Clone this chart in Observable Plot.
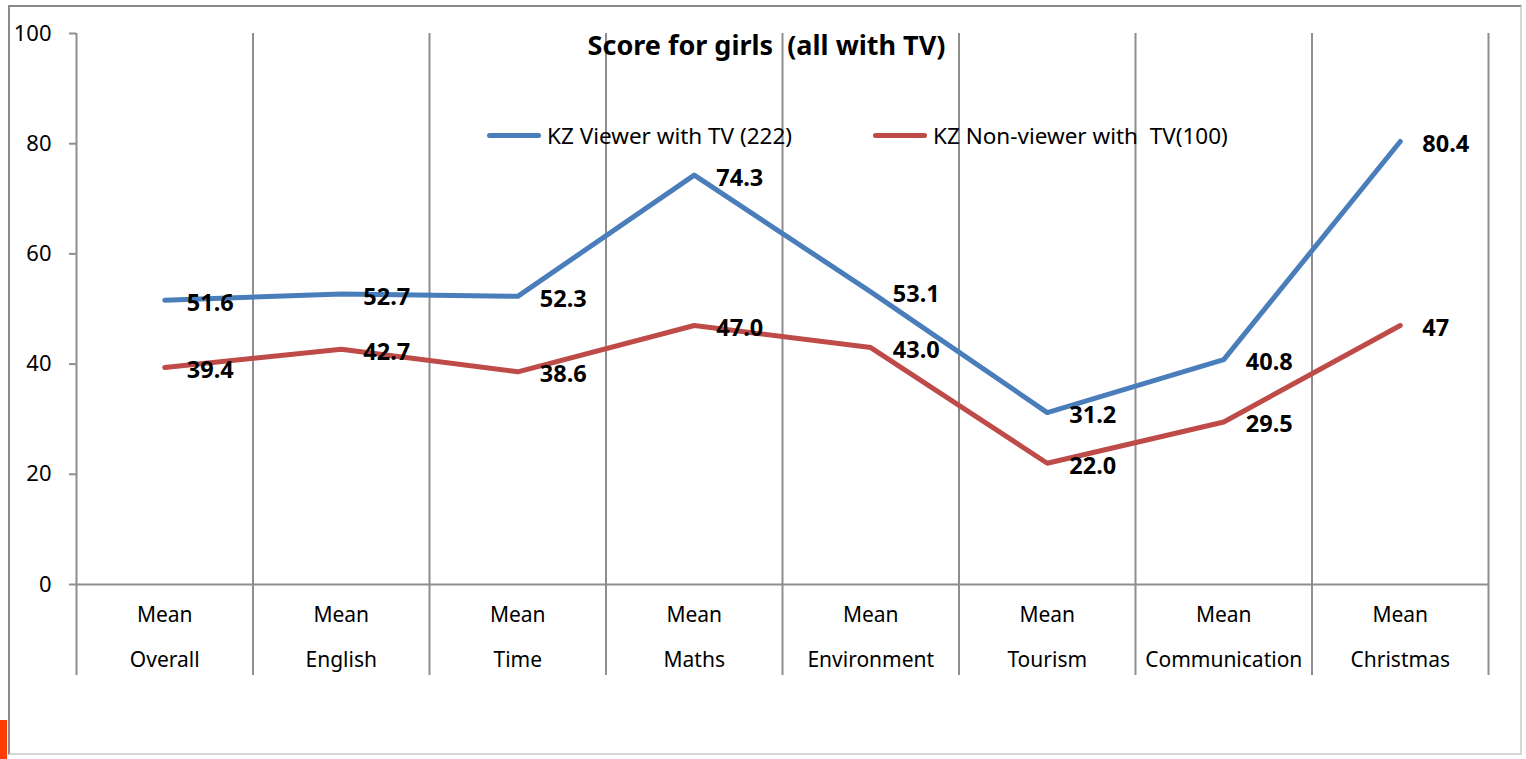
<!DOCTYPE html>
<html>
<head>
<meta charset="utf-8">
<script src="https://cdn.jsdelivr.net/npm/d3@7"></script>
<script src="https://cdn.jsdelivr.net/npm/@observablehq/plot@0.6"></script>
<style>
  html, body { margin: 0; padding: 0; background: #fff; }
  #wrap { position: relative; width: 1526px; height: 759px; overflow: hidden; font-family: "Noto Sans", sans-serif; }
  #wrap svg text { white-space: pre; }
  .border { position: absolute; left: 8px; top: 5px; width: 1514px; height: 750px;
            border-top: 2px solid #8a8a8a; border-left: 2px solid #8a8a8a;
            border-right: 2px solid #d6d6d6; border-bottom: 2px solid #d6d6d6; box-sizing: border-box; pointer-events: none; }
  .redmark { position: absolute; left: 0; top: 720px; width: 7px; height: 39px; background: #ff3d00; }
  .legend { position: absolute; top: 123px; height: 24px; display: flex; align-items: center;
            font-size: 22.5px; color: #000; white-space: pre; }
  .sw { display: inline-block; width: 54px; height: 5px; border-radius: 3px; margin-right: 6px; }
</style>
</head>
<body>
<div id="wrap">
  <div class="border"></div>
  <div class="redmark"></div>
</div>
<script>
const categories = ["Overall", "English", "Time", "Maths", "Environment", "Tourism", "Communication", "Christmas"];
const categoryPrefix = "Mean";
const viewerValues = [51.6, 52.7, 52.3, 74.3, 53.1, 31.2, 40.8, 80.4];
const nonViewerValues = [39.4, 42.7, 38.6, 47.0, 43.0, 22.0, 29.5, 47];
const viewerLabels = ["51.6", "52.7", "52.3", "74.3", "53.1", "31.2", "40.8", "80.4"];
const nonViewerLabels = ["39.4", "42.7", "38.6", "47.0", "43.0", "22.0", "29.5", "47"];
const seriesNames = ["KZ Viewer with TV (222)", "KZ Non-viewer with  TV(100)"];
const seriesColors = ["#4a7ebb", "#be4b48"];
const yTicks = [0, 20, 40, 60, 80, 100];
const title = "Score for girls  (all with TV)";

const rows = [];
categories.forEach((c, i) => {
  rows.push({series: seriesNames[0], pos: i + 0.5, value: viewerValues[i], label: viewerLabels[i]});
});
categories.forEach((c, i) => {
  rows.push({series: seriesNames[1], pos: i + 0.5, value: nonViewerValues[i], label: nonViewerLabels[i]});
});
const catIdx = categories.map((c, i) => ({name: c, pos: i + 0.5}));
const gridPos = d3.range(categories.length + 1);

const grid = "#8e8e8e";

const chart = Plot.plot({
  width: 1526,
  height: 759,
  marginLeft: 76,
  marginRight: 38,
  marginTop: 33,
  marginBottom: 175,
  style: {fontFamily: "Noto Sans, sans-serif", color: "#000", background: "transparent"},
  x: {domain: [0, categories.length], axis: null},
  y: {domain: [0, 100], axis: null},
  color: {domain: seriesNames, range: seriesColors},
  marks: [
    Plot.ruleX(gridPos, {x: d => d, stroke: grid, strokeWidth: 2, insetBottom: -91}),
    Plot.ruleY([0], {stroke: grid, strokeWidth: 2}),
    Plot.axisY({ticks: yTicks, tickSize: 7, tickPadding: 18, stroke: grid, strokeWidth: 2, fontSize: 22, fill: "#000", label: null}),
    Plot.line(rows, {x: "pos", y: "value", z: "series", stroke: "series", strokeWidth: 5, strokeLinejoin: "round", strokeLinecap: "round"}),
    Plot.text(rows, {x: "pos", y: "value", text: "label", textAnchor: "start", dx: 22, dy: 3, fontSize: 23.5, fontWeight: "bold", fill: "#000"}),
    Plot.text(catIdx, {x: "pos", text: () => categoryPrefix, frameAnchor: "bottom", lineAnchor: "middle", dy: 31, fontSize: 21, fill: "#000"}),
    Plot.text(catIdx, {x: "pos", text: "name", frameAnchor: "bottom", lineAnchor: "middle", dy: 76, fontSize: 21, fill: "#000"}),
    Plot.text([title], {text: d => d, frameAnchor: "top", lineAnchor: "middle", dx: -16, dy: 13, fontSize: 27, fontWeight: "bold", fill: "#000"})
  ]
});
chart.style.position = "absolute";
chart.style.left = "0px";
chart.style.top = "0px";
const wrap = document.getElementById("wrap");
wrap.insertBefore(chart, wrap.firstChild);

const legendLefts = [487, 873];
seriesNames.forEach((name, i) => {
  const d = document.createElement("div");
  d.className = "legend";
  d.style.left = legendLefts[i] + "px";
  const sw = document.createElement("span");
  sw.className = "sw";
  sw.style.background = seriesColors[i];
  d.appendChild(sw);
  const t = document.createElement("span");
  t.textContent = name;
  d.appendChild(t);
  wrap.appendChild(d);
});
</script>
</body>
</html>
